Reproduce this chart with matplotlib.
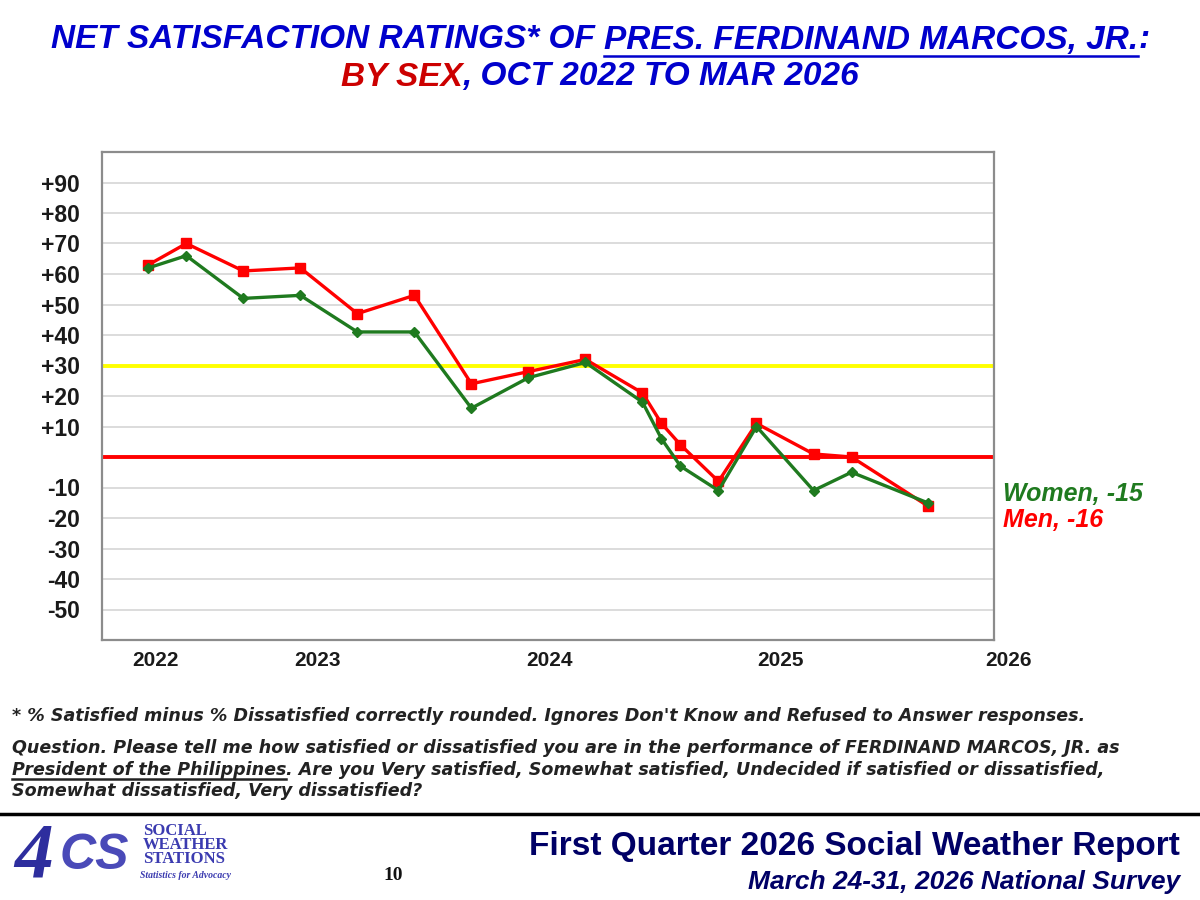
import matplotlib.pyplot as plt
import matplotlib.transforms as mtransforms
from matplotlib.lines import Line2D

# Survey months (year, month) and net satisfaction by sex
surveys = [(2022, 10), (2022, 12), (2023, 3), (2023, 6), (2023, 9), (2023, 12),
           (2024, 3), (2024, 6), (2024, 9), (2024, 12), (2025, 1), (2025, 2),
           (2025, 4), (2025, 6), (2025, 9), (2025, 11), (2026, 3)]
women = [62, 66, 52, 53, 41, 41, 16, 26, 31, 18, 6, -3, -11, 10, -11, -5, -15]
men = [63, 70, 61, 62, 47, 53, 24, 28, 32, 21, 11, 4, -8, 11, 1, 0, -16]

year_labels = ['2022', '2023', '2024', '2025', '2026']
year_pos = [2022.78, 2023.49, 2024.51, 2025.52, 2026.52]
y_ticks = [90, 80, 70, 60, 50, 40, 30, 20, 10, -10, -20, -30, -40, -50]

x = [yr + (m - 1) / 12 for yr, m in surveys]

W, H = 1200, 900
BLUE = '#0000cc'
DRED = '#cc0000'
NAVY = '#000066'
GREEN = '#1f7a1f'
FONT = 'Liberation Sans'

fig = plt.figure(figsize=(12, 9), dpi=100)
fig.patch.set_facecolor('white')

ax = fig.add_axes([102 / W, 1 - 640 / H, (994 - 102) / W, (640 - 152) / H])
ax.set_xlim(2022.547, 2026.458)
ax.set_ylim(-60, 100)

for v in y_ticks:
    ax.axhline(v, color='#d9d9d9', lw=1.3, zorder=1)
ax.axhline(30, color='#ffff00', lw=2.8, zorder=2)
ax.axhline(0, color='#ff0000', lw=2.8, zorder=2)

ax.plot(x, men, color='#ff0000', lw=2.4, marker='s', ms=6.5, zorder=3)
ax.plot(x, women, color=GREEN, lw=2.4, marker='D', ms=5, zorder=4)

ax.set_yticks(y_ticks)
ax.set_yticklabels([f'{v:+d}' for v in y_ticks])
ax.set_xticks([])
ax.tick_params(axis='y', length=0, pad=16)
for lab in ax.get_yticklabels():
    lab.set_fontfamily(FONT)
    lab.set_fontweight('bold')
    lab.set_fontsize(16.5)
    lab.set_color('#1a1a1a')

trans = mtransforms.blended_transform_factory(ax.transData, ax.transAxes)
for lab, pos in zip(year_labels, year_pos):
    ax.text(pos, -0.042, lab, transform=trans, ha='center', va='center',
            fontfamily=FONT, fontweight='bold', fontsize=15, color='#1a1a1a',
            clip_on=False)

for s in ax.spines.values():
    s.set_color('#8c8c8c')
    s.set_linewidth(1.6)

ax.text(1.01, (-12.2 + 60) / 160, 'Women, -15', transform=ax.transAxes,
        ha='left', va='center', fontfamily=FONT, fontweight='bold',
        style='italic', fontsize=18, color=GREEN)
ax.text(1.01, (-20.5 + 60) / 160, 'Men, -16', transform=ax.transAxes,
        ha='left', va='center', fontfamily=FONT, fontweight='bold',
        style='italic', fontsize=18, color='#ff0000')

renderer = fig.canvas.get_renderer()


def width_px(s, **kw):
    t = fig.text(0, 0, s + 'I', **kw)
    w1 = t.get_window_extent(renderer).width
    t.remove()
    t = fig.text(0, 0, 'I', **kw)
    w2 = t.get_window_extent(renderer).width
    t.remove()
    return w1 - w2


def runs(parts, y, x0, ha='center', ul_off=0.0, **kw):
    full = ''.join(p[0] for p in parts)
    total = width_px(full, **kw)
    start = x0 - total / 2 if ha == 'center' else x0
    prefix = ''
    for s, color, ul in parts:
        off = width_px(prefix, **kw) if prefix else 0.0
        fig.text((start + off) / W, 1 - y / H, s, color=color, ha='left',
                 va='center', **kw)
        if ul:
            w = width_px(s, **kw)
            fig.add_artist(Line2D([(start + off) / W, (start + off + w) / W],
                                  [1 - (y + ul_off) / H] * 2, color=color,
                                  lw=1.8, transform=fig.transFigure))
        prefix += s


title_kw = dict(fontfamily=FONT, fontweight='bold', style='italic', fontsize=24)
runs([('NET SATISFACTION RATINGS* OF ', BLUE, False),
      ('PRES. FERDINAND MARCOS, JR.', BLUE, True),
      (':', BLUE, False)], 40, 600, ul_off=16, **title_kw)
runs([('BY SEX', DRED, False),
      (', OCT 2022 TO MAR 2026', BLUE, False)], 77, 600, **title_kw)

note_kw = dict(fontfamily='DejaVu Sans', fontweight='bold', style='italic',
               fontsize=12.6)
fig.text(12 / W, 1 - 716 / H,
         "* % Satisfied minus % Dissatisfied correctly rounded. Ignores Don't "
         "Know and Refused to Answer responses.", color='#222222',
         ha='left', va='center', **note_kw)
fig.text(12 / W, 1 - 748 / H,
         'Question. Please tell me how satisfied or dissatisfied you are in the '
         'performance of FERDINAND MARCOS, JR. as', color='#222222',
         ha='left', va='center', **note_kw)
runs([('President of the Philippines', '#222222', True),
      ('. Are you Very satisfied, Somewhat satisfied, Undecided if satisfied '
       'or dissatisfied,', '#222222', False)], 770, 12, ha='left', ul_off=9,
     **note_kw)
fig.text(12 / W, 1 - 791 / H, 'Somewhat dissatisfied, Very dissatisfied?',
         color='#222222', ha='left', va='center', **note_kw)

# footer
fig.add_artist(Line2D([0, 1], [1 - 814 / H] * 2, color='black', lw=2.5,
                      transform=fig.transFigure))
fig.text(1180 / W, 1 - 846 / H, 'First Quarter 2026 Social Weather Report',
         ha='right', va='center', fontfamily=FONT, fontweight='bold',
         fontsize=24, color=NAVY)
fig.text(1180 / W, 1 - 882 / H, 'March 24-31, 2026 National Survey',
         ha='right', va='center', fontfamily=FONT, fontweight='bold',
         style='italic', fontsize=19, color=NAVY)
fig.text(393 / W, 1 - 876 / H, '10', ha='center', va='center',
         fontfamily='Liberation Serif', fontweight='bold', fontsize=14,
         color='#111111')

# logo (approximation)
fig.text(14 / W, 1 - 858 / H, '4', ha='left', va='center',
         fontfamily='Liberation Serif', fontweight='bold', style='italic',
         fontsize=56, color='#2e2e9e')
fig.text(60 / W, 1 - 856 / H, 'CS', ha='left', va='center',
         fontfamily=FONT, fontweight='bold', style='italic',
         fontsize=36, color='#4a4ab8')
fig.text(143 / W, 1 - 845 / H, 'SOCIAL\nWEATHER\nSTATIONS', ha='left',
         va='center', fontfamily='Liberation Serif', fontweight='bold',
         fontsize=12, color='#3b3bb0', linespacing=0.82)
fig.text(140 / W, 1 - 875 / H, 'Statistics for Advocacy', ha='left',
         va='center', fontfamily='Liberation Serif', fontweight='bold',
         style='italic', fontsize=7, color='#3b3bb0')

fig.savefig('out.png', dpi=100, facecolor='white')
